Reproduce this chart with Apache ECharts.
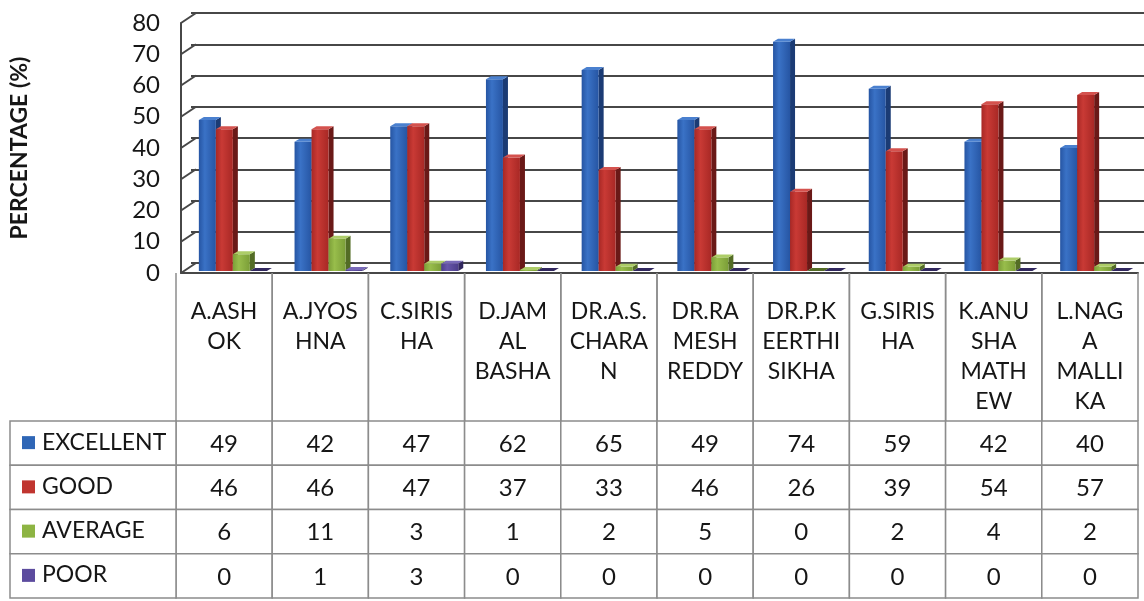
<!DOCTYPE html>
<html>
<head>
<meta charset="utf-8">
<title>Percentage by faculty</title>
<script src="https://cdn.jsdelivr.net/npm/echarts@6/dist/echarts.min.js"></script>
<style>
  html, body { margin: 0; padding: 0; background: #fff; }
  #chart { width: 1144px; height: 601px; }
</style>
</head>
<body>
<div id="chart"></div>
<script>
// data
const categories = ['A.ASHOK', 'A.JYOSHNA', 'C.SIRISHA', 'D.JAMAL BASHA', 'DR.A.S.CHARAN',
  'DR.RAMESH REDDY', 'DR.P.KEERTHI SIKHA', 'G.SIRISHA', 'K.ANUSHA MATHEW', 'L.NAGA MALLIKA']
// wrapped the way the table header shows them
const categoryLabels = ['A.ASH\nOK', 'A.JYOS\nHNA', 'C.SIRIS\nHA', 'D.JAM\nAL\nBASHA', 'DR.A.S.\nCHARA\nN',
  'DR.RA\nMESH\nREDDY', 'DR.P.K\nEERTHI\nSIKHA', 'G.SIRIS\nHA', 'K.ANU\nSHA\nMATH\nEW', 'L.NAG\nA\nMALLI\nKA']
const seriesNames = ['EXCELLENT', 'GOOD', 'AVERAGE', 'POOR']
const excellent = [49, 42, 47, 62, 65, 49, 74, 59, 42, 40]
const good = [46, 46, 47, 37, 33, 46, 26, 39, 54, 57]
const average = [6, 11, 3, 1, 2, 5, 0, 2, 4, 2]
const poor = [0, 1, 3, 0, 0, 0, 0, 0, 0, 0]
const yTicks = [0, 10, 20, 30, 40, 50, 60, 70, 80]

const seriesValues = [excellent, good, average, poor]

// front / side / top colours of the 3d columns
const palette = [
  { light: '#3a72c6', dark: '#2655a3', side: '#1b3b74', top: '#4a80cf', key: '#2f66b6' },
  { light: '#c93a35', dark: '#a82825', side: '#6a1917', top: '#d4524e', key: '#c0352f' },
  { light: '#98bd4b', dark: '#7b9e38', side: '#536c25', top: '#adcd68', key: '#8db443' },
  { light: '#6756aa', dark: '#4c3d8b', side: '#31275e', top: '#7869b8', key: '#5c4b9e' }
]

const FONT = 'Lato, "Liberation Sans", sans-serif'
const BAR_W = 17
const BAR_SHIFT = 4
const DEPTH_X = 5, DEPTH_Y = 3
const WALL_X = 15, WALL_Y = 10
const GRID_LINE = '#474747'
const TABLE_LINE = '#8c8c8c'

const chart = echarts.init(document.getElementById('chart'))

// one 3d column: front face, right side and top
function columnRenderer(k) {
  const c = palette[k]
  return function (params, api) {
    const idx = api.value(0)
    const val = api.value(1)
    const base = api.coord([idx, 0])
    const top = api.coord([idx, val])
    const yb = base[1] - 2
    const yt = Math.min(top[1], yb)
    const x0 = base[0] - 2 * BAR_W + k * BAR_W + BAR_SHIFT
    const x1 = x0 + BAR_W
    return {
      type: 'group',
      children: [
        {
          type: 'polygon',
          shape: { points: [[x1, yt], [x1 + DEPTH_X, yt - DEPTH_Y], [x1 + DEPTH_X, yb - DEPTH_Y], [x1, yb]] },
          style: { fill: c.side }
        },
        {
          type: 'rect',
          shape: { x: x0, y: yt, width: BAR_W, height: yb - yt },
          style: {
            fill: new echarts.graphic.LinearGradient(0, 0, 1, 0, [
              { offset: 0, color: c.dark },
              { offset: 0.35, color: c.light },
              { offset: 1, color: c.dark }
            ])
          }
        },
        {
          type: 'polygon',
          shape: { points: [[x0, yt], [x0 + DEPTH_X, yt - DEPTH_Y], [x1 + DEPTH_X, yt - DEPTH_Y], [x1, yt]] },
          style: { fill: val === 0 ? c.side : c.top }
        }
      ]
    }
  }
}

// slanted part of each gridline on the left side wall
function wallRenderer(params, api) {
  const p = api.coord([0, api.value(1)])
  const x = params.coordSys.x
  return {
    type: 'line',
    shape: { x1: x, y1: p[1], x2: x + WALL_X, y2: p[1] - WALL_Y },
    style: { stroke: GRID_LINE, lineWidth: 2 }
  }
}

// header cells with the wrapped names
function headerRenderer(params, api) {
  const c = api.coord([api.value(0), 0])
  const s = api.size([1, 1])
  const left = c[0] - s[0] / 2
  const topY = c[1] - s[1] / 2
  return {
    type: 'group',
    children: [
      { type: 'line', shape: { x1: left, y1: topY, x2: left, y2: topY + s[1] }, style: { stroke: TABLE_LINE, lineWidth: 1.5 } },
      { type: 'line', shape: { x1: left + s[0], y1: topY, x2: left + s[0], y2: topY + s[1] }, style: { stroke: TABLE_LINE, lineWidth: 1.5 } },
      {
        type: 'text',
        style: {
          text: categoryLabels[api.value(0)],
          x: c[0], y: topY + 24,
          align: 'center', verticalAlign: 'top',
          font: '23px ' + FONT, lineHeight: 30, fill: '#161616'
        }
      }
    ]
  }
}

// value cells
function cellRenderer(params, api) {
  const c = api.coord([api.value(0), api.value(1)])
  const s = api.size([1, 1])
  return {
    type: 'group',
    children: [
      {
        type: 'rect',
        shape: { x: c[0] - s[0] / 2, y: c[1] - s[1] / 2, width: s[0], height: s[1] },
        style: { fill: '#fff', stroke: TABLE_LINE, lineWidth: 1.5 }
      },
      {
        type: 'text',
        style: {
          text: String(api.value(2)),
          x: c[0], y: c[1] + 1,
          align: 'center', verticalAlign: 'middle',
          font: '24px ' + FONT, fill: '#161616'
        }
      }
    ]
  }
}

// legend key cells
function keyRenderer(params, api) {
  const r = api.value(1)
  const c = api.coord([0, r])
  const s = api.size([1, 1])
  const left = c[0] - s[0] / 2
  return {
    type: 'group',
    children: [
      {
        type: 'rect',
        shape: { x: left, y: c[1] - s[1] / 2, width: s[0], height: s[1] },
        style: { fill: '#fff', stroke: TABLE_LINE, lineWidth: 1.5 }
      },
      {
        type: 'rect',
        shape: { x: left + 12, y: c[1] - 7, width: 13, height: 13 },
        style: { fill: palette[r].key }
      },
      {
        type: 'text',
        style: {
          text: seriesNames[r],
          x: left + 32, y: c[1] - 1,
          align: 'left', verticalAlign: 'middle',
          font: '23px ' + FONT, fill: '#161616'
        }
      }
    ]
  }
}

const tableData = []
seriesValues.forEach((vals, r) => {
  vals.forEach((v, i) => tableData.push([i, r, v]))
})

const option = {
  animation: false,
  backgroundColor: '#fff',
  grid: [
    { left: 176, right: 6, top: 23, height: 250 },   // front: columns
    { left: 176 + WALL_X, right: 0, top: 23 - WALL_Y, height: 250 }, // back wall
    { left: 176, right: 6, top: 273, height: 148 },  // table header
    { left: 176, right: 6, top: 421, height: 177 },  // table values
    { left: 10, width: 166, top: 421, height: 177 }  // legend keys
  ],
  xAxis: [
    {
      gridIndex: 0, type: 'category', data: categories,
      axisLine: { show: true, lineStyle: { color: GRID_LINE, width: 2 } },
      axisTick: { show: false }, axisLabel: { show: false }
    },
    { gridIndex: 1, type: 'value', show: false },
    { gridIndex: 2, type: 'category', data: categories, show: false },
    { gridIndex: 3, type: 'category', data: categories, show: false },
    { gridIndex: 4, type: 'category', data: [''], show: false }
  ],
  yAxis: [
    {
      gridIndex: 0, type: 'value', min: 0, max: 80, interval: 10,
      name: 'PERCENTAGE (%)', nameLocation: 'middle', nameGap: 150,
      nameTextStyle: { fontFamily: FONT, fontSize: 23, fontWeight: 'bold', color: '#161616' },
      axisLine: { show: true, lineStyle: { color: GRID_LINE, width: 2 } },
      axisTick: { show: false },
      splitLine: { show: false },
      axisLabel: { margin: 21, fontFamily: FONT, fontSize: 24, color: '#161616' }
    },
    {
      gridIndex: 1, type: 'value', min: 0, max: 80, interval: 10,
      axisLine: { show: false }, axisTick: { show: false }, axisLabel: { show: false },
      splitLine: { show: true, lineStyle: { color: GRID_LINE, width: 2 } }
    },
    { gridIndex: 2, type: 'category', data: [''], show: false },
    { gridIndex: 3, type: 'category', data: seriesNames, inverse: true, show: false },
    { gridIndex: 4, type: 'category', data: seriesNames, inverse: true, show: false }
  ],
  series: [
    {
      type: 'custom', name: 'wall', xAxisIndex: 0, yAxisIndex: 0,
      renderItem: wallRenderer, clip: false,
      data: yTicks.map(v => [0, v])
    },
    ...seriesNames.map((name, k) => ({
      type: 'custom', name: name, xAxisIndex: 0, yAxisIndex: 0,
      renderItem: columnRenderer(k), clip: false, z: 3,
      encode: { x: 0, y: 1 },
      data: seriesValues[k].map((v, i) => [i, v])
    })),
    {
      type: 'custom', name: 'header', xAxisIndex: 2, yAxisIndex: 2,
      renderItem: headerRenderer,
      data: categories.map((c, i) => [i, 0])
    },
    {
      type: 'custom', name: 'cells', xAxisIndex: 3, yAxisIndex: 3,
      renderItem: cellRenderer,
      data: tableData
    },
    {
      type: 'custom', name: 'keys', xAxisIndex: 4, yAxisIndex: 4,
      renderItem: keyRenderer,
      data: seriesNames.map((n, r) => [0, r])
    }
  ]
}

chart.setOption(option)
</script>
</body>
</html>
